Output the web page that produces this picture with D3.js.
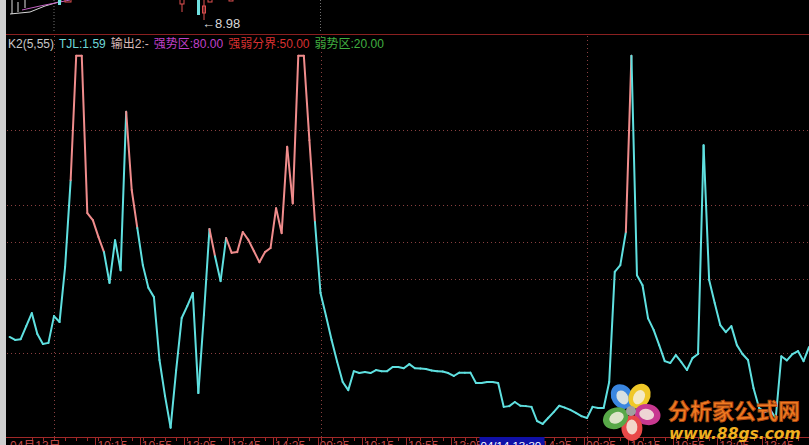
<!DOCTYPE html>
<html><head><meta charset="utf-8">
<script src="https://cdn.jsdelivr.net/npm/d3@7"></script>
<style>html,body{margin:0;padding:0;background:#000;overflow:hidden}svg{display:block}</style>
</head><body>
<script>
// ---- data ----
const barIndex0 = -8; // first visible bar index (04/13 09:35 = bar 0)
const k2Values = [
 24.4,23.6,23.8,27.3,30.8,25.2,22.5,22.8,
 30.0,28.4,43.2,66.5,100,100,57.7,55.8,51.3,47.2,38.9,50.4,42.3,84.9,63.9,53.7,43.7,37.6,35.1,18.2,8.5,0,15.4,29.5,32.7,36.2,9.3,30.3,53.4,46.1,39.4,51.0,47.0,47.2,52.6,50.5,47.5,44.5,47.2,48.3,59.0,52.3,75.5,60.3,100,100,77.3,55.3,
 36.2,30.0,23.6,17.7,12.3,10.1,15.2,14.7,15.0,14.7,15.5,15.2,15.2,16.3,16.3,16.0,17.1,16.0,15.9,15.8,15.4,15.2,15.1,14.7,13.9,14.8,14.8,14.8,12.0,12.0,12.3,12.3,12.0,5.6,5.8,6.9,5.9,5.8,5.6,1.8,1.0,2.6,4.2,5.9,5.4,4.8,4.0,3.1,
 2.6,5.6,5.3,5.3,12.3,41.9,43.7,52.6,100,41.0,38.3,29.4,26.3,22.2,17.9,17.4,19.5,17.6,15.5,18.7,19.8,75.9,39.7,33.5,27.6,25.7,27.3,22.2,19.8,18.2,10.6,5.3,4.2,4.8,2.6,19.2,18.1,19.8,20.6,17.9,21.7
];
// colour of the segment that ends at each bar: 0 = cyan, 1 = pink
const segColor = [
 0,0,0,0,0,0,0,0,
 0,0,0,0,1,1,1,1,1,1, 0,0,0,0,1,1, 0,0,0,0,0,0,0,0,0,0,0,0,0, 1,0,0, 1,1,1,1,1,1,1,1,1,1,1,1,1,1,1,1,
 0,0,0,0,0,0,0,0,0,0, 0,0,0,0,0,0,0,0,0,0, 0,0,0,0,0,0,0,0,0,0, 0,0,0,0,0,0,0,0,0,0, 0,0,0,0,0,0,0,0,
 0,0,0,0,0,0,0,0,1,0, 0,0,0,0,0,0,0,0,0,0, 0,0,0,0,0,0,0,0,0,0, 0,0,0,0,0,0,0,0,0,0, 0
];
const dayStartBars = [0, 48, 96];
const axisLabelBars = [8,16,24,32,40,48,56,64,72,88,96,104,112,120,128];
const axisLabels = ["10:15","10:55","13:05","13:45","14:25","09:35","10:15","10:55","13:05","14:25","09:35","10:15","10:55","13:05","13:45"];
const firstDateLabel = "04月13日";
const cursorLabel = "04/14 13:30";
const cursorBar = 77;
const gridLevels = [80, 60, 50, 40, 20];
const legendItems = [
 {t:"K2(5,55)", c:"#c8c8c8"},
 {t:"TJL:1.59", c:"#6fd8d8"},
 {t:"输出2:-", c:"#d8b8b8"},
 {t:"强势区:80.00", c:"#c040c8"},
 {t:"强弱分界:50.00", c:"#d83030"},
 {t:"弱势区:20.00", c:"#40b040"}
];
const priceLabel = "←8.98";

// ---- drawing ----
const W = 809, H = 445;
const svg = d3.select("body").append("svg").attr("width", W).attr("height", H);
svg.append("rect").attr("width", W).attr("height", H).attr("fill", "#000");

const x = d3.scaleLinear().domain([0, 96]).range([54, 587]);
const y = d3.scaleLinear().domain([0, 100]).range([427.7, 55.7]);

// left border
svg.append("rect").attr("x",0).attr("y",0).attr("width",6).attr("height",H).attr("fill","#cfcfcf");

// top panel (price chart fragment)
const topPanel = svg.append("g");
[0,48].forEach(b=>topPanel.append("line").attr("x1",x(b)).attr("x2",x(b)).attr("y1",0).attr("y2",33)
  .attr("stroke","#707070").attr("stroke-dasharray","1,2"));
topPanel.append("path").attr("d","M10,14 L30,12 L45,6 L62,1").attr("stroke","#d8d8d8").attr("fill","none");
topPanel.append("path").attr("d","M22,10 L40,6 L70,0").attr("stroke","#c060c0").attr("fill","none");
topPanel.append("path").attr("d","M12,0 V14 M18,2 V12 M25,0 V8").attr("stroke","#e0e0e0");
topPanel.append("rect").attr("x",58).attr("y",0).attr("width",3).attr("height",5).attr("fill","#70e0e0");
topPanel.append("rect").attr("x",65).attr("y",-2).attr("width",6).attr("height",4).attr("fill","none").attr("stroke","#e05050");
topPanel.append("rect").attr("x",180).attr("y",-2).attr("width",4).attr("height",6).attr("fill","none").attr("stroke","#e05050");
topPanel.append("line").attr("x1",182).attr("x2",182).attr("y1",4).attr("y2",12).attr("stroke","#e05050");
topPanel.append("rect").attr("x",197).attr("y",0).attr("width",3).attr("height",15).attr("fill","#70e0e0");
topPanel.append("rect").attr("x",202.5).attr("y",6).attr("width",3).attr("height",7).attr("fill","none").attr("stroke","#e05050");
topPanel.append("line").attr("x1",204).attr("x2",204).attr("y1",0).attr("y2",20).attr("stroke","#e05050");
topPanel.append("rect").attr("x",208).attr("y",-2).attr("width",4).attr("height",4).attr("fill","none").attr("stroke","#e05050");
topPanel.append("rect").attr("x",229).attr("y",-2).attr("width",4).attr("height",3).attr("fill","none").attr("stroke","#e05050");
topPanel.append("text").attr("x",202).attr("y",28).attr("fill","#d8d8d8").attr("font-family","Arial, 'Liberation Sans', sans-serif").attr("font-size",13).text(priceLabel);
svg.append("line").attr("x1",6).attr("x2",W).attr("y1",34.5).attr("y2",34.5).attr("stroke","#8a2020");

// legend
const leg = svg.append("text").attr("x",8).attr("y",48).attr("font-family","Arial, 'Liberation Sans', 'Noto Sans CJK SC', sans-serif").attr("font-size",12);
legendItems.forEach((d,i)=>leg.append("tspan").attr("fill",d.c).attr("dx", i===0?0:5).text(d.t));

// grid
const grid = svg.append("g");
gridLevels.forEach(v=>grid.append("line").attr("x1",7).attr("x2",W).attr("y1",Math.round(y(v))+0.5).attr("y2",Math.round(y(v))+0.5)
  .attr("stroke","#8a4040").attr("stroke-dasharray","1,3"));
dayStartBars.forEach(b=>grid.append("line").attr("x1",Math.round(x(b))+0.5).attr("x2",Math.round(x(b))+0.5).attr("y1",36).attr("y2",437)
  .attr("stroke","#8a4040").attr("stroke-dasharray","1,3"));

// line
const pts = k2Values.map((v,i)=>({k:barIndex0+i, v, c:segColor[i]}));
const lineGen = d3.line().x(d=>x(d.k)).y(d=>y(d.v));
const cols = ["#5fe0e0", "#f08c8c"];
const lg = svg.append("g");
for (let i=1;i<pts.length;i++){
  lg.append("path").attr("d", lineGen([pts[i-1],pts[i]])).attr("stroke", cols[pts[i].c])
    .attr("stroke-width",2).attr("fill","none").attr("stroke-linecap","round");
}

// axis
const ax = svg.append("g");
ax.append("rect").attr("x",6).attr("y",437).attr("width",W).attr("height",8).attr("fill","#000");
ax.append("line").attr("x1",6).attr("x2",W).attr("y1",437.5).attr("y2",437.5).attr("stroke","#a02828");
d3.range(-4, 138, 2).forEach(b=>ax.append("line").attr("x1",Math.round(x(b))+0.5).attr("x2",Math.round(x(b))+0.5)
  .attr("y1",437).attr("y2",441).attr("stroke","#a02828"));
const fontAx = "Arial, 'Liberation Sans', 'Noto Sans CJK SC', sans-serif";
ax.append("text").attr("x",10).attr("y",450).attr("fill","#c04848").attr("font-family",fontAx).attr("font-size",12).text(firstDateLabel);
axisLabelBars.forEach((b,i)=>{
  ax.append("line").attr("x1",Math.round(x(b))-2.5).attr("x2",Math.round(x(b))-2.5).attr("y1",437).attr("y2",445).attr("stroke","#a02828");
  ax.append("text").attr("x",x(b)-1).attr("y",450).attr("fill","#c04848").attr("font-family",fontAx).attr("font-size",12).text(axisLabels[i]);
});
ax.append("rect").attr("x",x(cursorBar)-2).attr("y",437).attr("width",65).attr("height",10).attr("fill","#1010a8");
ax.append("text").attr("x",x(cursorBar)-1).attr("y",450).attr("fill","#ffffff").attr("font-family",fontAx).attr("font-size",11.5).text(cursorLabel);

// watermark
const wm = svg.append("g");
const cx = 631, cy = 411;
const petals = [{a:-122,c:"#3a86e0"},{a:-60,c:"#f0c828"},{a:12,c:"#c83890"},{a:87,c:"#e84848"},{a:155,c:"#58a848"}];
petals.forEach(p=>{
  const g = wm.append("g").attr("transform",`translate(${cx},${cy}) rotate(${p.a})`);
  g.append("ellipse").attr("cx",17).attr("cy",0).attr("rx",13).attr("ry",10.5).attr("fill",p.c);
  g.append("ellipse").attr("cx",16).attr("cy",0).attr("rx",7.5).attr("ry",5.5).attr("fill","#f4f0e0").attr("opacity",0.85);
});
wm.append("circle").attr("cx",cx).attr("cy",cy).attr("r",5).attr("fill","#a0a0a0");
wm.append("text").attr("x",668).attr("y",419).attr("font-family","'Noto Sans CJK SC', sans-serif").attr("font-weight","bold")
  .attr("font-size",22).attr("fill","#f07a22").attr("stroke","#b04a10").attr("stroke-width",0.8).text("分析家公式网");
wm.append("text").attr("x",669).attr("y",439).attr("font-family","'DejaVu Sans', Verdana, sans-serif").attr("font-weight","bold")
  .attr("font-style","italic").attr("font-size",15.5).attr("fill","#f0b020").text("www.88gs.com");
</script>
</body></html>
